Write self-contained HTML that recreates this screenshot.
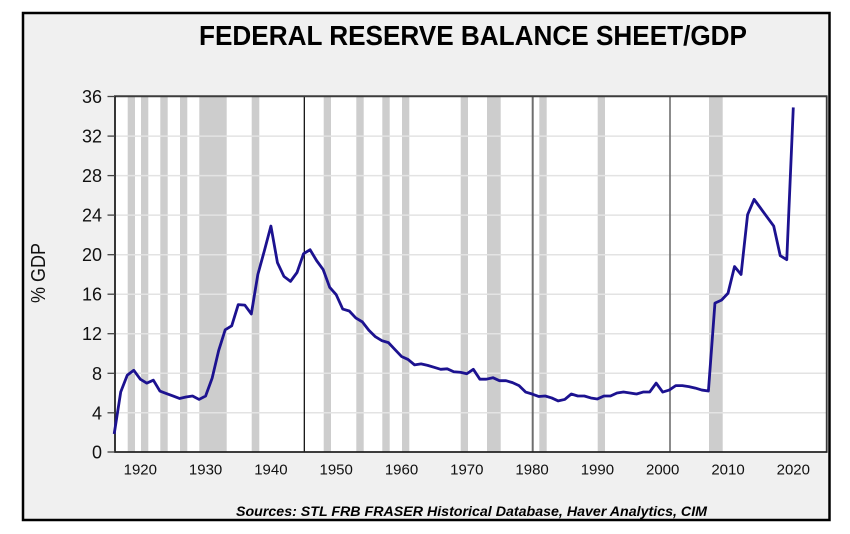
<!DOCTYPE html>
<html><head><meta charset="utf-8"><style>
html,body{margin:0;padding:0;background:#fff;}
svg{display:block;}
text{font-family:"Liberation Sans",Arial,sans-serif;}
</style></head><body>
<svg width="850" height="534" viewBox="0 0 850 534" xmlns="http://www.w3.org/2000/svg">
<rect x="0" y="0" width="850" height="534" fill="#ffffff"/>
<rect x="23" y="13" width="806.5" height="507" fill="#f0f0f0" stroke="#000" stroke-width="2.5"/>
<text x="199" y="45" font-size="28" font-weight="bold" fill="#000" textLength="548" lengthAdjust="spacingAndGlyphs">FEDERAL RESERVE BALANCE SHEET/GDP</text>
<rect x="114.5" y="96" width="712" height="356" fill="#ffffff"/>
<g fill="#cdcdcd">
<rect x="127.7" y="96" width="7.3" height="356"/>
<rect x="141" y="96" width="7.3" height="356"/>
<rect x="160.3" y="96" width="7.4" height="356"/>
<rect x="180" y="96" width="7.3" height="356"/>
<rect x="199.3" y="96" width="27.4" height="356"/>
<rect x="251.7" y="96" width="7.6" height="356"/>
<rect x="323.7" y="96" width="7.3" height="356"/>
<rect x="356.3" y="96" width="7.4" height="356"/>
<rect x="382.3" y="96" width="7.4" height="356"/>
<rect x="402" y="96" width="7.3" height="356"/>
<rect x="460.7" y="96" width="7.3" height="356"/>
<rect x="487" y="96" width="13.7" height="356"/>
<rect x="539.3" y="96" width="7.4" height="356"/>
<rect x="597.7" y="96" width="7.3" height="356"/>
<rect x="709" y="96" width="13.7" height="356"/>
</g>
<g stroke="#e3e3e3" stroke-width="1.5">
<line x1="115" x2="826" y1="412.8" y2="412.8"/>
<line x1="115" x2="826" y1="373.3" y2="373.3"/>
<line x1="115" x2="826" y1="333.7" y2="333.7"/>
<line x1="115" x2="826" y1="294.2" y2="294.2"/>
<line x1="115" x2="826" y1="254.7" y2="254.7"/>
<line x1="115" x2="826" y1="215.1" y2="215.1"/>
<line x1="115" x2="826" y1="175.6" y2="175.6"/>
<line x1="115" x2="826" y1="136.1" y2="136.1"/>
</g>
<line x1="304.3" x2="304.3" y1="96" y2="452" stroke="#000" stroke-width="1.2"/>
<line x1="532.7" x2="532.7" y1="96" y2="452" stroke="#6e6e6e" stroke-width="2"/>
<line x1="670" x2="670" y1="96" y2="452" stroke="#707070" stroke-width="1.6"/>
<line x1="114" x2="827.5" y1="96.3" y2="96.3" stroke="#3c3c3c" stroke-width="2"/>
<line x1="826.7" x2="826.7" y1="96" y2="452.5" stroke="#3c3c3c" stroke-width="1.8"/>
<line x1="115" x2="115" y1="96" y2="452.5" stroke="#222" stroke-width="1.8"/>
<line x1="114" x2="827.5" y1="452" y2="452" stroke="#222" stroke-width="1.8"/>
<g stroke="#444" stroke-width="1.3">
<line x1="107.5" x2="115" y1="452" y2="452"/>
<line x1="107.5" x2="115" y1="412.8" y2="412.8"/>
<line x1="107.5" x2="115" y1="373.3" y2="373.3"/>
<line x1="107.5" x2="115" y1="333.7" y2="333.7"/>
<line x1="107.5" x2="115" y1="294.2" y2="294.2"/>
<line x1="107.5" x2="115" y1="254.7" y2="254.7"/>
<line x1="107.5" x2="115" y1="215.1" y2="215.1"/>
<line x1="107.5" x2="115" y1="175.6" y2="175.6"/>
<line x1="107.5" x2="115" y1="136.1" y2="136.1"/>
<line x1="107.5" x2="115" y1="96.5" y2="96.5"/>
</g>
<g font-size="18" fill="#111" text-anchor="end">
<text x="102" y="458.5">0</text>
<text x="102" y="419.3">4</text>
<text x="102" y="379.8">8</text>
<text x="102" y="340.2">12</text>
<text x="102" y="300.7">16</text>
<text x="102" y="261.2">20</text>
<text x="102" y="221.6">24</text>
<text x="102" y="182.1">28</text>
<text x="102" y="142.6">32</text>
<text x="102" y="103">36</text>
</g>
<g font-size="15" fill="#111" text-anchor="middle">
<text x="140.3" y="474.5">1920</text>
<text x="205.6" y="474.5">1930</text>
<text x="270.9" y="474.5">1940</text>
<text x="336.2" y="474.5">1950</text>
<text x="401.5" y="474.5">1960</text>
<text x="466.8" y="474.5">1970</text>
<text x="532.1" y="474.5">1980</text>
<text x="597.4" y="474.5">1990</text>
<text x="662.7" y="474.5">2000</text>
<text x="728" y="474.5">2010</text>
<text x="793.3" y="474.5">2020</text>
</g>
<text transform="translate(45,273) rotate(-90)" font-size="20" fill="#111" text-anchor="middle" textLength="60" lengthAdjust="spacingAndGlyphs">% GDP</text>
<text x="236" y="516" font-size="13.5" font-weight="bold" font-style="italic" fill="#000" textLength="471" lengthAdjust="spacingAndGlyphs">Sources:  STL FRB FRASER Historical Database, Haver Analytics, CIM</text>
<g transform="translate(-12397.3,452.3) scale(6.53,-9.88)">
<polyline fill="none" stroke="#1c1290" stroke-width="2.8" stroke-linejoin="round" vector-effect="non-scaling-stroke" points="1916,1.85 1917,6.1 1918,7.8 1919,8.3 1920,7.4 1921,7.0 1922,7.3 1923,6.2 1924,5.95 1925,5.7 1926,5.45 1927,5.6 1928,5.7 1929,5.35 1930,5.7 1931,7.5 1932,10.3 1933,12.4 1934,12.8 1935,14.95 1936,14.9 1937,14.0 1938,18.0 1939,20.4 1940,22.9 1941,19.2 1942,17.8 1943,17.3 1944,18.2 1945,20.1 1946,20.5 1947,19.4 1948,18.5 1949,16.7 1950,15.95 1951,14.5 1952,14.3 1953,13.6 1954,13.2 1955,12.35 1956,11.7 1957,11.3 1958,11.1 1959,10.4 1960,9.7 1961,9.4 1962,8.85 1963,8.95 1964,8.8 1965,8.6 1966,8.4 1967,8.45 1968,8.15 1969,8.1 1970,7.95 1971,8.4 1972,7.4 1973,7.4 1974,7.55 1975,7.25 1976,7.25 1977,7.05 1978,6.75 1979,6.1 1980,5.9 1981,5.65 1982,5.7 1983,5.5 1984,5.2 1985,5.35 1986,5.9 1987,5.7 1988,5.7 1989,5.5 1990,5.4 1991,5.7 1992,5.7 1993,6.0 1994,6.1 1995,6.0 1996,5.9 1997,6.1 1998,6.1 1999,7.0 2000,6.1 2001,6.3 2002,6.75 2003,6.75 2004,6.65 2005,6.5 2006,6.3 2007,6.2 2008,15.1 2009,15.4 2010,16.1 2011,18.8 2012,18.0 2013,24.05 2014,25.6 2015,24.7 2016,23.8 2017,22.9 2018,19.9 2019,19.5 2020,34.9"/>
</g>
</svg>
</body></html>
